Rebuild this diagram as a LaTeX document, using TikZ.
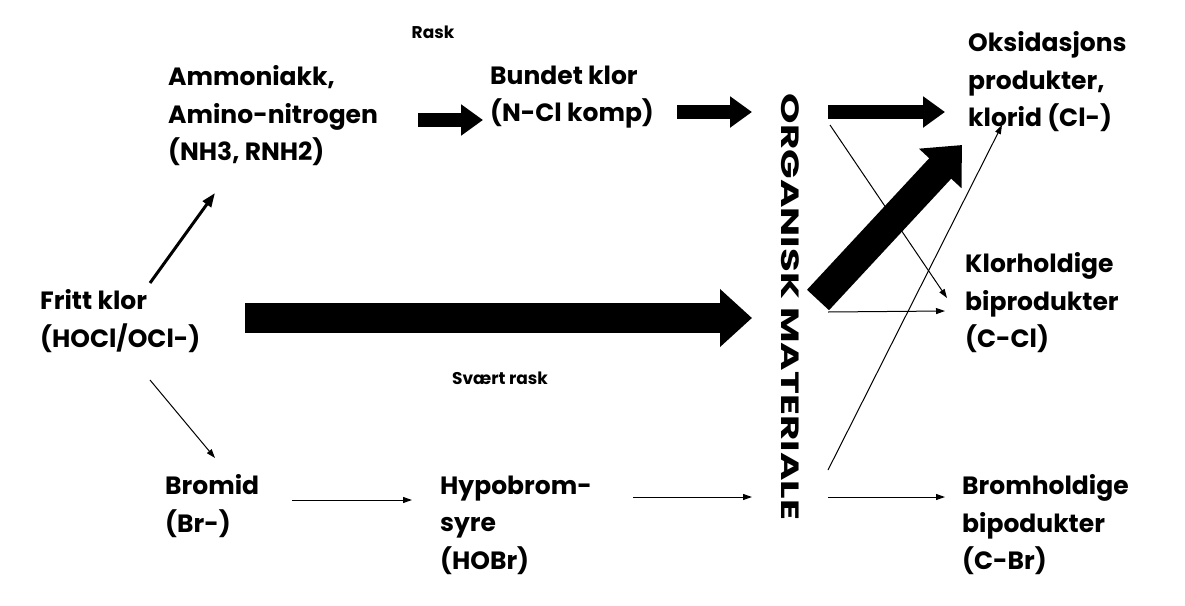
\documentclass[tikz,border=0pt]{standalone}
\usepackage{fontspec}
\setmainfont{Poppins}
\usetikzlibrary{arrows.meta}
\begin{document}
\begin{tikzpicture}[x=1pt,y=-1pt,
  lbl/.style={font=\bfseries\fontsize{25}{37.5}\selectfont,align=left,anchor=west,inner sep=0},
  sm/.style={font=\bfseries\fontsize{17}{20}\selectfont,inner sep=0},
  thin/.style={line width=1pt,-{Triangle[length=9,width=6]}},
  mid/.style={line width=3pt,-{Triangle[length=14,width=10]}},
  thick/.style={line width=14pt,-{Triangle[length=22,width=30]}},
  huge/.style={line width=30pt,-{Triangle[length=32,width=56]}}]
\useasboundingbox (0,0) rectangle (1185,605);
\node[sm] (rask) at (433,32) {Rask};
\node[sm] (srask) at (500,378) {Svært rask};
\node[lbl] (amm) at (168,116) {Ammoniakk,\\Amino-nitrogen\\(NH3, RNH2)};
\node[lbl] (bun) at (490,97) {Bundet klor\\(N-Cl komp)};
\node[lbl] (oks) at (968,82) {Oksidasjons\\produkter,\\klorid (Cl-)};
\node[lbl] (klo) at (965,303) {Klorholdige\\biprodukter\\(C-Cl)};
\node[lbl] (fri) at (40,321) {Fritt klor\\(HOCl/OCl-)};
\node[lbl] (bro) at (165,506) {Bromid\\(Br-)};
\node[lbl] (hyp) at (440,525) {Hypobrom-\\syre\\(HOBr)};
\node[lbl] (brh) at (962,525) {Bromholdige\\bipodukter\\(C-Br)};
\node[font=\bfseries\fontsize{25}{30}\selectfont,rotate=-90,xscale=1.55,inner sep=0] (org) at (790,307) {ORGANISK MATERIALE};
\draw[thick] (418,120) -- (483,120);
\draw[thick] (677,112) -- (752,112);
\draw[thick] (828,112) -- (945,112);
\draw[huge] (245,318) -- (752,318);
\draw[huge] (818,300) -- (962,145);
\draw[mid] (150,283) -- (215,193);
\draw[thin] (150,380) -- (215,458);
\draw[thin] (292,500) -- (412,500);
\draw[thin] (633,497) -- (752,497);
\draw[thin] (828,497) -- (945,497);
\draw[thin] (828,312) -- (945,311);
\draw[thin] (830,125) -- (947,298);
\draw[thin] (828,470) -- (1002,125);
\end{tikzpicture}
\end{document}
